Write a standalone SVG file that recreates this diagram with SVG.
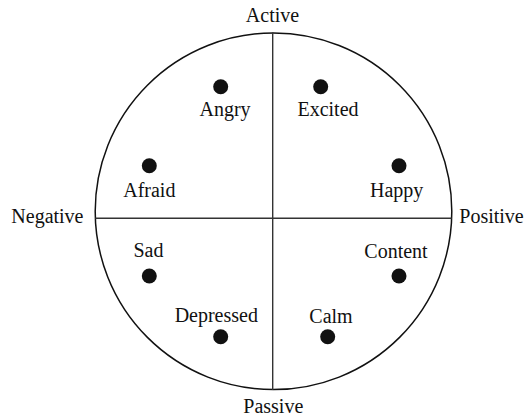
<svg xmlns="http://www.w3.org/2000/svg" width="524" height="419" viewBox="0 0 524 419">
<style>
text{font-family:"Liberation Serif","Times New Roman",serif;font-size:20px;fill:#111;text-anchor:middle}
.dot{fill:#111}
.ln{stroke:#333;stroke-width:1.4;fill:none}
</style>
<rect width="524" height="419" fill="#fff"/>
<g id="frame">
<circle cx="273.5" cy="211.3" r="178.3" fill="none" stroke="#111" stroke-width="1.5"/>
</g>
<g id="connectors">
<line class="ln" x1="272.7" y1="32.5" x2="272.7" y2="390"/>
<line class="ln" x1="95.3" y1="218.3" x2="451.7" y2="218.3"/>
</g>
<g id="axis-labels">
<text x="272.5" y="21.7">Active</text>
<text x="273.3" y="413.3">Passive</text>
<text x="83.5" y="222.8" style="text-anchor:end">Negative</text>
<text x="459.3" y="222.8" style="text-anchor:start">Positive</text>
</g>
<g id="angry"><circle class="dot" cx="220.7" cy="86.7" r="7.5"/><text x="225" y="116">Angry</text></g>
<g id="excited"><circle class="dot" cx="320.7" cy="86.7" r="7.5"/><text x="328" y="115.5">Excited</text></g>
<g id="afraid"><circle class="dot" cx="149.3" cy="165.7" r="7.5"/><text x="149.3" y="196.5">Afraid</text></g>
<g id="happy"><circle class="dot" cx="399" cy="165.7" r="7.5"/><text x="396.7" y="196.5">Happy</text></g>
<g id="sad"><circle class="dot" cx="149.3" cy="276" r="7.5"/><text x="148.5" y="257">Sad</text></g>
<g id="content"><circle class="dot" cx="399" cy="276" r="7.5"/><text x="396" y="257.5">Content</text></g>
<g id="depressed"><circle class="dot" cx="220.7" cy="336.7" r="7.5"/><text x="216.3" y="322">Depressed</text></g>
<g id="calm"><circle class="dot" cx="327.7" cy="336.7" r="7.5"/><text x="331" y="322.5">Calm</text></g>
</svg>
